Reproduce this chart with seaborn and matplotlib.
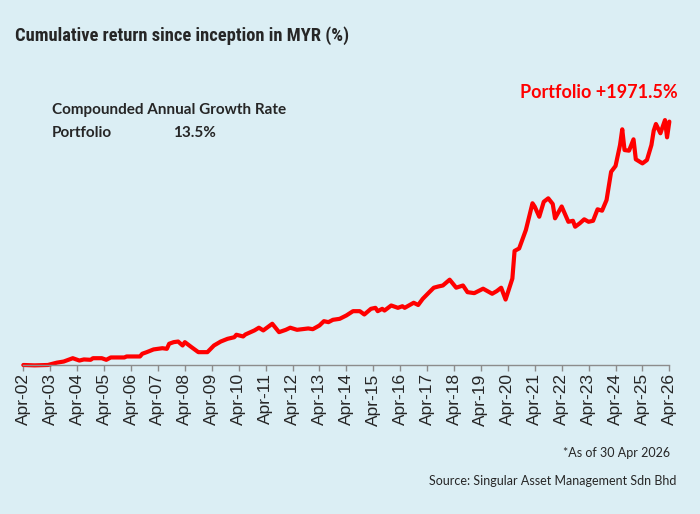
import pandas as pd
import seaborn as sns
import matplotlib.pyplot as plt
import matplotlib.dates as mdates

# month-end readings of cumulative return (%)
dates = ['2002-04', '2002-09', '2003-03', '2003-04', '2003-07', '2003-10', '2004-02', '2004-05',
         '2004-07', '2004-10', '2004-11', '2005-03', '2005-05', '2005-07', '2006-01', '2006-02',
         '2006-08', '2006-09', '2006-11', '2007-02', '2007-06', '2007-08', '2007-09', '2007-11',
         '2008-01', '2008-03', '2008-04', '2008-07', '2008-10', '2009-02', '2009-05', '2009-08',
         '2009-11', '2010-02', '2010-03', '2010-06', '2010-07', '2010-11', '2011-01', '2011-03',
         '2011-07', '2011-10', '2012-01', '2012-03', '2012-06', '2012-11', '2013-01', '2013-04',
         '2013-06', '2013-08', '2013-10', '2014-01', '2014-04', '2014-07', '2014-10', '2014-12',
         '2015-03', '2015-05', '2015-06', '2015-08', '2015-09', '2015-12', '2016-03', '2016-05',
         '2016-06', '2016-10', '2016-12', '2017-02', '2017-05', '2017-07', '2017-09', '2017-11',
         '2018-02', '2018-05', '2018-08', '2018-10', '2019-01', '2019-05', '2019-09', '2019-11',
         '2020-01', '2020-03', '2020-06', '2020-07', '2020-09', '2020-12', '2021-03', '2021-04',
         '2021-06', '2021-08', '2021-10', '2021-12', '2022-01', '2022-04', '2022-07', '2022-09',
         '2022-10', '2022-12', '2023-02', '2023-04', '2023-06', '2023-08', '2023-10', '2023-12',
         '2024-02', '2024-04', '2024-06', '2024-07', '2024-08', '2024-10', '2024-12', '2025-01',
         '2025-04', '2025-06', '2025-08', '2025-09', '2025-10', '2025-12', '2026-02', '2026-03',
         '2026-04']
returns = [0, -3, 0, 5, 19, 28, 55, 36,
           45, 42, 55, 55, 42, 61, 61, 69,
           69, 91, 104, 126, 136, 131, 172, 185,
           190, 158, 185, 144, 104, 104, 158, 190,
           212, 225, 245, 231, 247, 280, 302, 280,
           334, 266, 285, 302, 285, 296, 290, 320,
           355, 347, 366, 374, 401, 436, 436, 409,
           455, 463, 436, 455, 441, 482, 463, 476,
           463, 504, 486, 536, 590, 626, 636, 644,
           691, 626, 644, 590, 582, 618, 577, 598,
           626, 530, 700, 924, 944, 1093, 1310, 1282,
           1201, 1322, 1350, 1304, 1188, 1284, 1160, 1168,
           1120, 1147, 1180, 1160, 1168, 1261, 1250, 1336,
           1565, 1612, 1782, 1909, 1741, 1736, 1828, 1666,
           1633, 1660, 1782, 1898, 1952, 1877, 1984, 1844,
           1971.5]

title = 'Cumulative return since inception in MYR (%)'
cagr_label = 'Compounded Annual Growth Rate'
cagr_name = 'Portfolio'
cagr_value = '13.5%'
end_label = 'Portfolio +1971.5%'
note = '*As of 30 Apr 2026'
source = 'Source: Singular Asset Management Sdn Bhd'

bg = '#dbeef4'
df = pd.DataFrame({'date': pd.to_datetime(dates), 'ret': returns})

sns.set_style('white', {'axes.facecolor': bg, 'figure.facecolor': bg})
plt.rcParams['font.family'] = ['Liberation Sans', 'DejaVu Sans']

fig = plt.figure(figsize=(7, 5.14), dpi=100)
ax = fig.add_axes([0.0333, 0.2899, 0.9229, 0.5284])
sns.lineplot(data=df, x='date', y='ret', ax=ax, color='#ff0000', linewidth=3, clip_on=False)

ax.set_xlim(pd.Timestamp('2002-04-01'), pd.Timestamp('2026-04-01'))
ax.set_ylim(0, 2200)
ax.xaxis.set_major_locator(mdates.MonthLocator(bymonth=4))
ax.xaxis.set_major_formatter(mdates.DateFormatter('%b-%y'))
ax.tick_params(axis='x', rotation=90, labelsize=12.5, length=4, width=1, color='#8c8c8c',
               bottom=True, pad=2)
ax.set_yticks([])
ax.set_xlabel('')
ax.set_ylabel('')
for s in ['left', 'top', 'right']:
    ax.spines[s].set_visible(False)
ax.spines['bottom'].set_color('#8c8c8c')
ax.spines['bottom'].set_linewidth(1)

fig.text(15 / 700, 1 - 36 / 514, title, fontsize=13.3, fontweight='bold',
         family=['Roboto Condensed', 'Archivo Narrow', 'Liberation Sans'], va='center', ha='left')
fig.text(52 / 700, 1 - 110 / 514, cagr_label, fontsize=11, fontweight='bold', family='Lato',
         va='center', ha='left')
fig.text(52 / 700, 1 - 133 / 514, cagr_name, fontsize=11, fontweight='bold', family='Lato',
         va='center', ha='left')
fig.text(173 / 700, 1 - 133 / 514, cagr_value, fontsize=11, fontweight='bold', family='Lato',
         va='center', ha='left')
fig.text(678 / 700, 1 - 93 / 514, end_label, fontsize=13, fontweight='bold', family='Lato',
         color='#ff0000', va='center', ha='right')
fig.text(670 / 700, 1 - 453 / 514, note, fontsize=9, family='Lato', va='center', ha='right')
fig.text(676 / 700, 1 - 481 / 514, source, fontsize=9, family='Lato', va='center', ha='right')

fig.savefig('out.png', dpi=100, facecolor=bg)
